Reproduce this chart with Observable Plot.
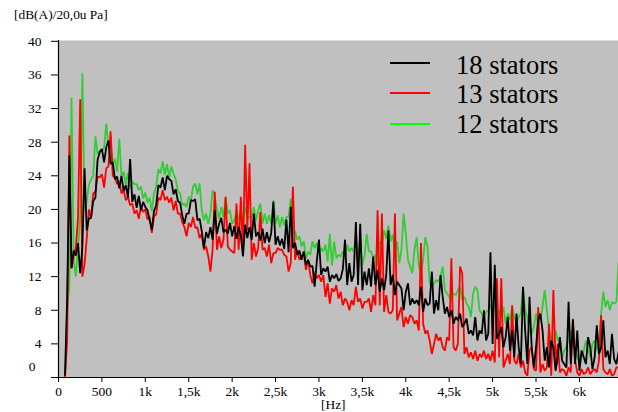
<!DOCTYPE html>
<html>
<head>
<meta charset="utf-8">
<script src="https://cdn.jsdelivr.net/npm/d3@7"></script>
<script src="https://cdn.jsdelivr.net/npm/@observablehq/plot@0.6"></script>
<style>
  body { margin: 0; background: #fff; }
  #wrap { position: relative; width: 618px; height: 412px; font-family: "Liberation Serif", Tinos, "Times New Roman", Times, "Noto Serif", "DejaVu Serif", serif; color: #000; overflow: hidden; }
  #wrap svg { position: absolute; left: 0; top: 0; }
  .txt { position: absolute; white-space: nowrap; }
  .unit { left: 14px; top: 8px; font-size: 13.4px; line-height: 14px; }
  .hz { left: 321px; top: 398px; font-size: 13.4px; line-height: 14px; }
  .lg-line { position: absolute; left: 390px; width: 40px; height: 2px; }
  .lg-text { position: absolute; left: 456px; font-size: 26.5px; line-height: 30px; }
</style>
</head>
<body>
<div id="wrap">
  <div class="txt unit">[dB(A)/20,0u Pa]</div>
  <div class="txt hz">[Hz]</div>
</div>
<script>
// Frequency grid (Hz): regular FFT-like sampling, 75 Hz to 6450 Hz every 25 Hz
const freqStart = 75;
const freqStep = 25;

// 18 stators (black)
const stators18 = [
  0.3, 9.6, 26.4, 13.0, 15.1, 14.5, 16.0, 12.4, 15.5, 24.9,
  17.5, 18.9, 19.0, 21.0, 21.4, 25.9, 26.8, 27.2, 25.6, 27.4,
  28.2, 25.4, 25.6, 23.6, 23.9, 22.5, 24.0, 22.2, 22.9, 21.4,
  26.0, 20.9, 21.8, 20.2, 21.6, 19.9, 20.9, 20.3, 19.9, 18.7,
  17.6, 19.8, 20.5, 22.9, 22.6, 23.8, 22.3, 24.0, 23.6, 23.4,
  21.8, 22.4, 21.0, 20.8, 19.3, 18.3, 19.5, 19.5, 21.1, 21.0,
  21.2, 18.7, 18.9, 17.4, 15.4, 17.3, 16.6, 17.9, 16.4, 19.9,
  17.1, 18.3, 19.0, 17.3, 17.6, 17.1, 18.4, 16.8, 18.0, 16.5,
  17.9, 16.9, 14.4, 18.2, 16.6, 17.9, 16.4, 19.5, 16.8, 17.3,
  16.3, 17.7, 16.0, 17.3, 16.1, 17.2, 20.9, 15.8, 16.8, 15.7,
  16.5, 15.3, 18.8, 14.9, 20.3, 15.4, 16.0, 14.6, 15.1, 14.0,
  15.0, 13.4, 14.0, 13.2, 13.3, 10.8, 13.8, 16.4, 12.2, 13.0,
  12.6, 13.2, 11.4, 12.2, 11.8, 12.3, 11.5, 11.8, 12.9, 16.4,
  11.0, 13.6, 11.4, 12.2, 18.5, 11.0, 18.3, 10.4, 12.6, 11.0,
  13.0, 10.8, 14.4, 11.0, 12.8, 10.2, 11.8, 10.4, 12.2, 17.5,
  11.0, 12.2, 9.8, 11.4, 11.0, 10.6, 8.0, 10.2, 11.2, 8.6,
  9.4, 8.8, 9.2, 8.6, 10.8, 7.8, 9.4, 8.6, 8.8, 12.6,
  7.6, 9.2, 8.0, 12.2, 9.6, 7.6, 8.4, 7.2, 8.0, 6.4,
  7.2, 6.8, 7.6, 6.0, 6.4, 7.0, 5.2, 5.6, 5.0, 7.2,
  4.4, 5.6, 5.2, 8.0, 4.4, 5.2, 14.9, 4.0, 13.4, 4.6,
  5.2, 6.0, 3.6, 4.8, 7.2, 3.2, 5.6, 2.4, 7.6, 3.6,
  1.6, 10.8, 5.6, 1.6, 9.6, 3.6, 1.2, 3.6, 6.8, 7.6,
  5.6, 2.0, 3.6, 1.2, 4.4, 3.6, 0.8, 2.4, 4.8, 2.0,
  1.6, 1.2, 9.0, 1.6, 6.9, 1.6, 5.6, 0.8, 3.2, 2.4,
  1.6, 4.8, 3.6, 1.0, 2.4, 6.2, 2.8, 3.6, 6.8, 2.4,
  3.2, 1.6, 5.2, 2.2, 1.6, 3.0
];

// 13 stators (red)
const stators13 = [
  0.0, 4.5, 28.8, 13.0, 14.5, 15.5, 19.0, 33.1, 12.0, 13.5,
  16.5, 20.0, 19.0, 21.9, 22.1, 23.9, 23.8, 24.2, 22.6, 24.9,
  25.1, 29.3, 24.0, 23.8, 23.0, 23.3, 21.9, 22.3, 21.1, 21.5,
  20.5, 20.7, 19.5, 19.9, 18.9, 20.3, 19.7, 20.0, 18.8, 19.1,
  17.2, 19.2, 19.4, 21.4, 21.1, 22.3, 21.1, 21.5, 20.8, 21.4,
  19.9, 21.0, 19.5, 19.5, 18.5, 17.9, 16.8, 18.4, 17.9, 19.1,
  17.8, 17.9, 16.6, 17.1, 15.2, 15.6, 14.4, 12.6, 15.2, 22.1,
  15.2, 16.8, 15.4, 16.4, 21.5, 15.6, 15.2, 15.0, 14.8, 20.7,
  15.2, 21.5, 14.8, 27.7, 17.5, 25.5, 14.0, 16.0, 14.4, 15.4,
  19.7, 15.2, 15.4, 14.4, 15.8, 13.6, 14.8, 14.8, 15.4, 15.2,
  15.2, 14.6, 14.4, 12.6, 13.6, 22.7, 14.0, 15.2, 14.0, 14.4,
  14.8, 12.8, 14.0, 12.2, 11.2, 12.6, 11.8, 12.2, 11.4, 12.2,
  9.6, 11.2, 8.8, 10.6, 10.2, 11.0, 9.4, 10.2, 8.6, 9.4,
  9.0, 8.0, 9.2, 8.6, 10.8, 9.0, 9.4, 8.2, 9.0, 9.0,
  9.4, 7.8, 9.8, 8.6, 19.9, 8.6, 19.5, 7.8, 9.8, 7.8,
  7.6, 8.0, 19.5, 6.8, 7.6, 8.4, 6.0, 7.2, 6.4, 7.4,
  7.2, 6.4, 6.8, 5.6, 16.0, 6.4, 5.2, 5.6, 4.4, 2.8,
  4.0, 5.2, 4.4, 4.8, 3.6, 3.2, 4.8, 4.4, 14.2, 3.6,
  3.2, 4.0, 13.2, 12.4, 2.8, 3.6, 2.4, 3.0, 2.2, 3.2,
  2.0, 2.8, 2.4, 3.2, 2.2, 2.8, 2.0, 3.2, 1.8, 11.8,
  2.4, 11.8, 1.2, 2.0, 2.8, 1.6, 8.6, 2.0, 1.6, 2.8,
  1.2, 2.0, 0.6, 0.2, 3.2, 3.6, 1.0, 0.8, 8.4, 0.6,
  1.6, 0.8, 1.2, 6.4, 0.2, 10.4, 1.6, 4.0, 0.6, 1.0,
  0.8, 0.2, 1.2, 0.6, 7.0, 2.0, 0.6, 0.2, 1.0, 0.4,
  0.6, 1.2, 0.4, 0.8, 1.0, 0.6, 2.0, 7.4, 1.0, 0.6,
  0.4, 1.0, 0.2, 0.4, 1.2, 1.2
];

// 12 stators (green)
const stators12 = [
  0.5, 8.0, 11.0, 33.3, 14.0, 12.0, 15.5, 19.0, 36.2, 20.0,
  21.0, 22.9, 23.6, 24.0, 28.7, 26.6, 27.0, 27.0, 27.3, 30.2,
  27.5, 28.0, 25.5, 26.0, 24.5, 28.4, 24.0, 24.5, 23.0, 24.3,
  22.5, 23.3, 23.0, 23.0, 22.3, 22.7, 21.3, 22.0, 20.8, 21.4,
  19.8, 21.9, 22.7, 24.8, 24.3, 25.7, 24.1, 25.4, 23.8, 25.1,
  24.2, 23.6, 22.2, 21.9, 20.5, 20.7, 20.3, 21.5, 21.1, 22.7,
  23.1, 21.8, 23.1, 19.9, 18.7, 19.5, 18.3, 19.5, 22.3, 21.6,
  19.9, 18.9, 20.3, 19.1, 21.5, 19.5, 19.9, 18.3, 18.7, 19.9,
  18.7, 19.9, 18.3, 20.3, 18.9, 19.1, 19.1, 20.3, 18.7, 19.9,
  20.7, 18.3, 19.5, 18.3, 19.3, 18.3, 21.1, 18.3, 19.3, 17.9,
  19.1, 18.1, 19.1, 19.1, 21.3, 17.1, 17.4, 16.4, 16.8, 15.6,
  16.2, 14.2, 15.0, 14.6, 16.2, 15.4, 16.0, 14.6, 15.4, 15.0,
  15.8, 13.8, 17.1, 13.3, 16.2, 14.2, 14.6, 14.4, 15.0, 14.2,
  15.8, 15.0, 15.4, 15.0, 16.4, 14.6, 16.2, 13.4, 14.5, 17.1,
  15.0, 15.0, 14.2, 14.6, 13.3, 16.2, 15.8, 17.5, 16.5, 18.1,
  16.2, 17.0, 14.8, 16.2, 13.6, 15.2, 19.5, 17.1, 14.0, 13.2,
  12.4, 15.2, 16.7, 13.2, 12.4, 14.0, 16.7, 15.6, 11.2, 10.8,
  11.2, 11.6, 11.4, 12.0, 13.2, 10.4, 10.0, 9.6, 9.2, 10.0,
  9.8, 10.4, 10.8, 9.2, 9.6, 8.8, 8.4, 7.2, 10.0, 10.8,
  10.4, 8.0, 7.6, 7.2, 7.8, 8.0, 8.4, 9.2, 9.0, 7.2,
  8.0, 7.2, 8.4, 6.4, 7.6, 6.8, 8.4, 7.2, 6.4, 7.2,
  7.6, 10.8, 8.0, 7.2, 5.6, 5.2, 6.0, 7.6, 6.4, 6.8,
  8.4, 10.4, 8.0, 5.6, 4.8, 4.0, 5.6, 4.4, 4.8, 2.4,
  3.2, 3.6, 4.8, 5.6, 4.0, 3.2, 2.4, 1.6, 2.4, 3.2,
  4.4, 3.6, 2.4, 4.0, 4.4, 3.2, 4.4, 7.6, 10.2, 8.4,
  9.2, 8.0, 9.0, 8.8, 9.0, 13.6
];

const seriesNames = ["12 stators", "13 stators", "18 stators"];   // drawing order (back to front)
const seriesValues = [stators12, stators13, stators18];
const seriesColors = ["#32cd32", "#ff0000", "#000000"];

const legendNames = ["18 stators", "13 stators", "12 stators"];
const legendColors = ["#000000", "#ff0000", "#00ff00"];

const xTicks = [0, 500, 1000, 1500, 2000, 2500, 3000, 3500, 4000, 4500, 5000, 5500, 6000];
const xTickLabels = ["0", "500", "1k", "1,5k", "2k", "2,5k", "3k", "3,5k", "4k", "4,5k", "5k", "5,5k", "6k"];
const yTicks = [0, 4, 8, 12, 16, 20, 24, 28, 32, 36, 40];

const xLabelMap = new Map(xTicks.map((t, i) => [t, xTickLabels[i]]));

const rows = [];
seriesValues.forEach((vals, si) => {
  vals.forEach((v, i) => rows.push({f: freqStart + i * freqStep, v, s: seriesNames[si]}));
});

const fontStack = '"Liberation Serif", Tinos, "Times New Roman", Times, "Noto Serif", "DejaVu Serif", serif';

const chart = Plot.plot({
  width: 618,
  height: 412,
  marginLeft: 58,
  marginRight: 0,
  marginTop: 40,
  marginBottom: 35,
  style: {fontFamily: fontStack, fontSize: "13.5px", background: "transparent", color: "#000", overflow: "visible"},
  x: {domain: [0, 6450], ticks: xTicks, tickFormat: d => xLabelMap.get(d), tickSize: 5, tickPadding: 4, label: null},
  y: {domain: [0, 40.1], ticks: yTicks, tickFormat: d => (d === 0 ? "" : String(d)), tickSize: 7, tickPadding: 10, label: null},
  color: {domain: seriesNames, range: seriesColors},
  marks: [
    Plot.frame({fill: "#c0c0c0", stroke: null}),
    Plot.line(rows, {x: "f", y: "v", z: "s", stroke: "s", strokeWidth: 1.8, strokeLinejoin: "miter", clip: true}),
    Plot.ruleX([0], {stroke: "#000", strokeWidth: 1.2}),
    Plot.ruleY([0], {stroke: "#000", strokeWidth: 1.2}),
    Plot.text(["0"], {frameAnchor: "bottom-left", dx: -23, dy: -7, textAnchor: "end", fontSize: 13.5})
  ]
});

const wrap = document.getElementById("wrap");
wrap.insertBefore(chart, wrap.firstChild);

// legend inside the plot area
const legendY = [63.3, 93.0, 124.0];
const textY = [64.7, 94.2, 124.2];
legendNames.forEach((name, i) => {
  const ln = document.createElement("div");
  ln.className = "lg-line";
  ln.style.top = (legendY[i] - 1) + "px";
  ln.style.background = legendColors[i];
  wrap.appendChild(ln);
  const tx = document.createElement("div");
  tx.className = "txt lg-text";
  tx.style.top = (textY[i] - 15) + "px";
  tx.textContent = name;
  wrap.appendChild(tx);
});
</script>
</body>
</html>
